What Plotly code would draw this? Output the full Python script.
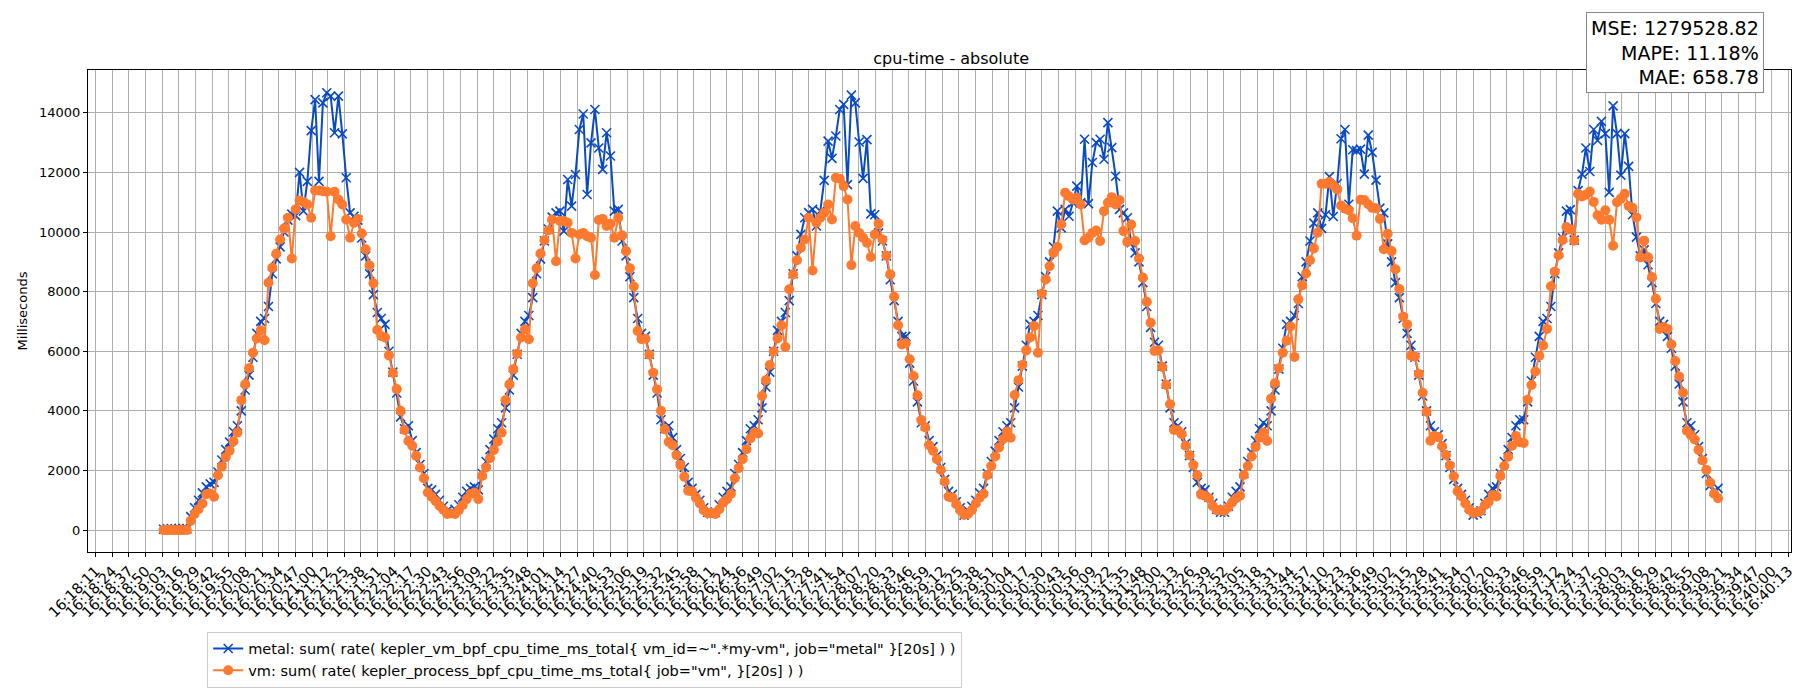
import pandas as pd
import plotly.graph_objects as go

# vm: sum( rate( kepler_process_bpf_cpu_time_ms_total ) )
vm_ms = [
    0, 0, 0, 0, 0, 0, 0,
    310, 540, 700, 890, 1200, 1230, 1120, 1840, 2130, 2440, 2660, 2970, 3270, 4360, 4890, 5430, 5950, 6430, 6700, 6370, 8300, 8800, 9270, 9750, 10120, 10480,
    9110, 10760, 11060, 11010, 10920, 10480, 11390, 11390, 11370, 11350, 9860, 11350, 11090, 10920, 10420, 9810, 10310, 10440, 9950, 9420, 8880, 8280,
    6710, 6510, 6460, 5860, 5280, 4730, 4000, 3360, 2990, 2830, 2490, 2100, 1740, 1260, 1120, 980, 815, 680, 540, 560, 540, 670, 840, 1040, 1210, 1260, 1040,
    1820, 2100, 2410, 2690, 2970, 3270, 4360, 4890, 5400, 5920, 6460, 6740, 6400, 8280, 8780, 9280, 9720, 10050, 10420,
    9020, 10370, 10370, 10310, 9970, 9110, 9920, 9970, 9860, 9810, 8560, 10400, 10440, 10200, 10280, 9810,
    10480, 9890, 9360, 8780, 8170, 6680, 6400, 6420, 5880, 5280, 4720, 4000, 3380, 2960, 2850, 2510, 2180, 1790, 1320, 1300, 1090, 890, 670, 570, 570, 540, 700, 920, 1040, 1210,
    1740, 2080, 2380, 2710, 3070, 3270, 3240, 4500, 5030, 5540, 5990, 6430, 6870, 6140, 8080, 8580, 9050,
    9470, 9750, 10480, 8710, 10310, 10480, 10650, 10920, 10420, 11820, 11790, 11540, 11090, 8890, 10200, 9970, 9810, 9640, 9160, 9920, 10280, 9750, 9200,
    8580, 7830, 6870, 6230, 6270, 5730, 5170, 4520, 3690, 3440, 2850, 2660, 2380, 2020, 1630, 1120, 1090, 870, 670,
    510, 540, 670, 890, 1090, 1210, 1850, 2150, 2470, 2770, 3050, 3310, 3100, 4530, 5030, 5540, 6030, 6460, 6850, 5950, 7930, 8410, 8850, 9300,
    9500, 10250, 11320, 11200, 11090, 11150, 10920, 9720, 9810, 9970, 10050, 9700, 10700, 10980, 11170, 10920, 11070, 10030, 9670, 10250, 9700, 9110,
    8470, 7660, 6960, 6010, 6030, 5470, 4870, 4220, 3360, 3350, 3220, 2830, 2510, 2180, 1840, 1190, 1150, 1060, 810, 670, 670, 650, 760, 930, 1070, 1150,
    1850, 2150, 2470, 2790, 3100, 3270, 2990, 4410, 4930, 5430, 5950, 6350, 6830, 5810, 7740, 8210, 8610, 9050, 9450,
    9980, 11620, 11620, 11680, 11570, 11430, 10890, 10780, 10730, 10460, 9880, 11080, 11070, 10930, 10810, 10790, 10440, 9420,
    9940, 9360, 8750, 8090, 7160, 6900, 5850, 5820, 5240, 4610, 3970, 3000, 3160, 3120, 2810, 2520, 2170, 1800, 1300, 1130, 890, 680, 570, 600, 640, 840, 950, 1180, 1130,
    1820, 2150, 2460, 2830, 3160, 2950, 2920, 4370, 4870, 5320, 5850, 6190, 6750, 8180, 8670, 9220, 9730, 10170, 10080, 9710,
    11280, 11190, 11250, 11360, 11010, 10560, 10410, 10730, 10410, 9540, 11000, 11120, 11280, 10870, 10810, 10490, 9150,
    9710, 9150, 8490, 7760, 6750, 6810, 6750, 6230, 5670, 5150, 4610, 3330, 3190, 3040, 2690, 2340, 2020, 1590, 1220, 1070,
]

# metal: sum( rate( kepler_vm_bpf_cpu_time_ms_total ) )
metal_ms = [
    30, 40, 50, 40, 50, 60, 40,
    450, 750, 1000, 1250, 1450, 1550, 1600, 1950, 2350, 2700, 2950, 3300, 3500, 4000, 4700, 5200, 5800, 6600, 7000, 7100, 7500, 8600, 9100, 9500, 10000, 10400,
    10600, 10550, 12000, 10700, 11700, 13400, 14440, 11700, 14330, 14670, 14560, 13330, 14560, 13290, 11820, 10640, 10530, 10400, 9800, 9200, 8600, 7900,
    7300, 7100, 6900, 6000, 5300, 4600, 3800, 3400, 3500, 3000, 2600, 2200, 1900, 1400, 1350, 1200, 1000, 800, 650, 600, 700, 850, 1100, 1300, 1400, 1450, 1350,
    1900, 2300, 2700, 3050, 3400, 3600, 4100, 4700, 5200, 5900, 6600, 7000, 7200, 7800, 8600, 9100, 9700, 10100, 10500,
    10640, 10700, 10030, 11760, 10870, 11930, 13440, 13960, 11260, 12990, 14110, 12820, 12100, 13330, 12550, 10700,
    10760, 9700, 9200, 8500, 7800, 7100, 6600, 6500, 5900, 5200, 4600, 3700, 3400, 3500, 3100, 2700, 2400, 2100, 1600, 1400, 1200, 1000, 750, 600, 550, 600, 850, 1100, 1300, 1450,
    1900, 2200, 2600, 3000, 3400, 3500, 3700, 4100, 4800, 5300, 6000, 6700, 7000, 7300, 7700, 8600, 9200,
    9920, 10480, 10650, 10760, 10200, 10700, 11730, 13050, 12470, 13220, 14110, 14280, 11590, 14590, 14330, 13020, 11800, 13100, 10610, 10580, 9970, 9700, 9200,
    8400, 7700, 7000, 6500, 6500, 5600, 5000, 4300, 3600, 3500, 3000, 2800, 2500, 2100, 1700, 1300, 1200, 950, 750,
    500, 650, 800, 1000, 1250, 1400, 1900, 2300, 2650, 3000, 3300, 3500, 3600, 4100, 4800, 5500, 6200, 6900, 7000, 7200, 7900, 8500, 9000, 9500,
    10700, 10140, 10760, 10530, 10980, 11540, 10980, 13110, 10950, 12330, 13000, 13110, 12440, 13670, 12830, 11870, 10760, 10640, 10480, 9640, 9300, 9000,
    8300, 7500, 6800, 6300, 6200, 5500, 4900, 4100, 3600, 3500, 3300, 2900, 2500, 2100, 1600, 1400, 1350, 1100, 900, 700, 600, 600, 800, 1100, 1300, 1450,
    1900, 2300, 2600, 3000, 3400, 3600, 3500, 4000, 4700, 5400, 6100, 6900, 7000, 7200, 7600, 8500, 9000, 9700, 10300,
    10640, 10120, 10580, 11860, 10520, 11620, 13130, 13440, 10930, 12760, 12730, 12780, 11940, 13250, 12670, 11740, 10800, 10640,
    9600, 9000, 8300, 7800, 7100, 6600, 6200, 5800, 5200, 4500, 4000, 3500, 3300, 3200, 2900, 2500, 2100, 1700, 1400, 1200, 1000, 750, 500, 550, 650, 900, 1200, 1400, 1450,
    1900, 2300, 2700, 3100, 3500, 3700, 3700, 4300, 5000, 5800, 6500, 7000, 7100, 7500, 8600, 9300, 9800, 10700, 10750, 9730,
    11390, 11940, 12820, 12030, 13440, 13070, 13710, 13300, 11330, 14230, 13300, 11910, 13300, 12200, 10580, 9830, 9200,
    9400, 8900, 8300, 7600, 7000, 6900, 6500, 6100, 5500, 4900, 4300, 3600, 3500, 3200, 2800, 2400, 1900, 1500, 1300, 1400,
]

tick_labels = [
    "16:18:11", "16:18:24", "16:18:37", "16:18:50", "16:19:03", "16:19:16", "16:19:29", "16:19:42", "16:19:55",
    "16:20:08", "16:20:21", "16:20:34", "16:20:47", "16:21:00", "16:21:12", "16:21:25", "16:21:38", "16:21:51",
    "16:22:04", "16:22:17", "16:22:30", "16:22:43", "16:22:56", "16:23:09", "16:23:22", "16:23:35", "16:23:48",
    "16:24:01", "16:24:14", "16:24:27", "16:24:40", "16:24:53", "16:25:06", "16:25:19", "16:25:32", "16:25:45",
    "16:25:58", "16:26:11", "16:26:24", "16:26:36", "16:26:49", "16:27:02", "16:27:15", "16:27:28", "16:27:41",
    "16:27:54", "16:28:07", "16:28:20", "16:28:33", "16:28:46", "16:28:59", "16:29:12", "16:29:25", "16:29:38",
    "16:29:51", "16:30:04", "16:30:17", "16:30:30", "16:30:43", "16:30:56", "16:31:09", "16:31:22", "16:31:35",
    "16:31:48", "16:32:00", "16:32:13", "16:32:26", "16:32:39", "16:32:52", "16:33:05", "16:33:18", "16:33:31",
    "16:33:44", "16:33:57", "16:34:10", "16:34:23", "16:34:36", "16:34:49", "16:35:02", "16:35:15", "16:35:28",
    "16:35:41", "16:35:54", "16:36:07", "16:36:20", "16:36:33", "16:36:46", "16:36:59", "16:37:12", "16:37:24",
    "16:37:37", "16:37:50", "16:38:03", "16:38:16", "16:38:29", "16:38:42", "16:38:55", "16:39:08", "16:39:21",
    "16:39:34", "16:39:47", "16:40:00", "16:40:13",
]

y_ticks = [0, 2000, 4000, 6000, 8000, 10000, 12000, 14000]

DAY = "2024-01-01 "
n = min(len(vm_ms), len(metal_ms))
times = pd.date_range(DAY + "16:19:04", periods=n, freq="3035ms")
tick_vals = [pd.Timestamp(DAY + t) for t in tick_labels]

BLUE = "#0a4ac4"
ORANGE = "#ff7a2e"

fig = go.Figure()
fig.add_trace(go.Scatter(
    x=times, y=metal_ms[:n], mode="lines+markers",
    name='metal: sum( rate( kepler_vm_bpf_cpu_time_ms_total{ vm_id=~".*my-vm", job="metal" }[20s] ) )',
    line=dict(color=BLUE, width=2),
    marker=dict(symbol="x-thin", size=9, line=dict(color=BLUE, width=1.6)),
))
fig.add_trace(go.Scatter(
    x=times, y=vm_ms[:n], mode="lines+markers",
    name='vm: sum( rate( kepler_process_bpf_cpu_time_ms_total{ job="vm", }[20s] ) )',
    line=dict(color=ORANGE, width=2),
    marker=dict(symbol="circle", size=10, color=ORANGE),
))

axis_common = dict(
    showline=True, linecolor="black", linewidth=1, mirror=True,
    showgrid=True, gridcolor="#b0b0b0", gridwidth=1,
    ticks="outside", ticklen=4, tickcolor="black", zeroline=False,
)

fig.update_xaxes(
    **axis_common,
    tickmode="array", tickvals=tick_vals, ticktext=tick_labels, tickangle=-45,
    tickfont=dict(size=14.5),
    range=[pd.Timestamp(DAY + "16:18:05"), pd.Timestamp(DAY + "16:40:15")],
)
fig.update_yaxes(
    **axis_common,
    tickmode="array", tickvals=y_ticks, ticktext=[str(v) for v in y_ticks],
    tickfont=dict(size=13),
    range=[-735, 15435],
    title=dict(text="Milliseconds", font=dict(size=13), standoff=8),
)

fig.add_annotation(
    xref="paper", yref="paper", x=0.984, y=1.12, xanchor="right", yanchor="top",
    text="MSE: 1279528.82<br>MAPE: 11.18%<br>MAE: 658.78", align="right", showarrow=False,
    font=dict(size=19, color="black"), bgcolor="white", bordercolor="#888888", borderwidth=1, borderpad=4,
)

fig.update_layout(
    width=1800, height=700,
    margin=dict(l=80, r=15, t=62, b=156),
    paper_bgcolor="white", plot_bgcolor="white",
    font=dict(family="DejaVu Sans", color="black"),
    title=dict(text="cpu-time - absolute", x=0.524, xanchor="center", y=1 - 50 / 700, yanchor="middle",
               font=dict(size=16)),
    legend=dict(x=0.07, y=-0.165, xanchor="left", yanchor="top", bordercolor="#cccccc", borderwidth=1,
                bgcolor="white", font=dict(size=14.5), tracegroupgap=0),
)

fig.write_html("out.html")
